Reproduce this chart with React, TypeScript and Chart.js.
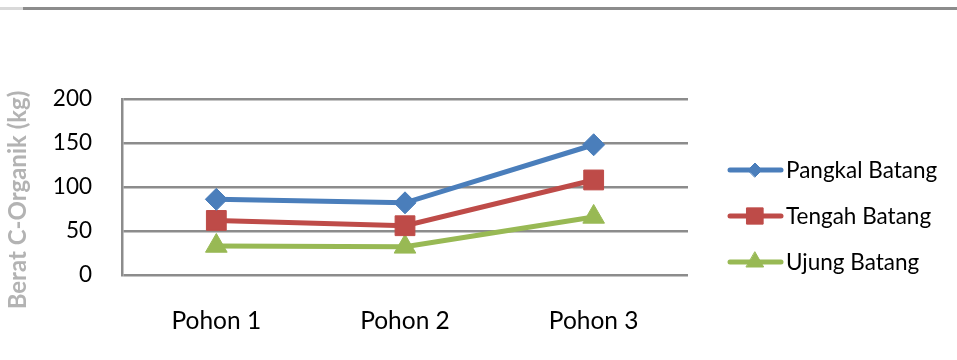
import React, { useEffect, useRef } from "react";
import { Chart, registerables } from "chart.js";
import { drawPoint } from "chart.js/helpers";

Chart.register(...registerables);

const categories = ["Pohon 1", "Pohon 2", "Pohon 3"];
const pangkalBatang = [86, 82, 148];
const tengahBatang = [62, 56, 108];
const ujungBatang = [33, 32, 66];
const yTicks = [0, 50, 100, 150, 200];
const yTitle = "Berat C-Organik (kg)";

const FONT = "Lato";

const legendPlugin = {
  id: "customLegend",
  afterDraw(chart: any) {
    const ctx = chart.ctx;
    ctx.save();
    const sizes = [7, 11.5, 10];
    chart.data.datasets.forEach((ds: any, i: number) => {
      const y = 170 + i * 46;
      ctx.strokeStyle = ds.borderColor;
      ctx.lineWidth = 5;
      ctx.lineCap = "round";
      ctx.beginPath();
      ctx.moveTo(730, y);
      ctx.lineTo(781, y);
      ctx.stroke();
      ctx.fillStyle = ds.backgroundColor;
      ctx.strokeStyle = ds.borderColor;
      ctx.lineWidth = 1;
      (drawPoint as any)(ctx, { pointStyle: ds.pointStyle, radius: sizes[i], rotation: 0, borderWidth: 1 }, 755, y);
      ctx.fillStyle = "#000000";
      ctx.font = `22.5px ${FONT}`;
      ctx.textAlign = "left";
      ctx.textBaseline = "middle";
      ctx.fillText(ds.label, 786, y + 1);
    });
    ctx.translate(18, 200);
    ctx.rotate(-Math.PI / 2);
    ctx.fillStyle = "#b3b3b3";
    ctx.font = `bold 24px ${FONT}`;
    ctx.textAlign = "center";
    ctx.textBaseline = "middle";
    ctx.fillText(yTitle, 0, 0);
    ctx.restore();
  },
};

export default function App() {
  const ref = useRef<HTMLCanvasElement>(null);
  useEffect(() => {
    if (!ref.current) return;
    const mk = (label: string, data: number[], color: string, style: string, r: number) => ({
      label,
      data,
      borderColor: color,
      backgroundColor: color,
      borderWidth: 5,
      pointStyle: style,
      pointRadius: r,
      pointBorderWidth: 1,
      tension: 0,
    });
    const chart = new Chart(ref.current, {
      type: "line",
      data: {
        labels: categories,
        datasets: [
          mk("Pangkal Batang", pangkalBatang, "#4a7ebb", "rectRot", 11),
          mk("Tengah Batang", tengahBatang, "#be4b48", "rect", 14),
          mk("Ujung Batang", ujungBatang, "#98b954", "triangle", 12.5),
        ],
      },
      options: {
        responsive: false,
        animation: false,
        layout: { padding: { left: 0, right: 269, top: 99, bottom: 0 } },
        plugins: { legend: { display: false }, tooltip: { enabled: false } },
        scales: {
          x: {
            offset: true,
            grid: { display: false, drawTicks: false },
            border: { display: false },
            ticks: { padding: 31, color: "#000000", font: { family: FONT, size: 24.5 } },
            afterFit: (s: any) => {
              s.height = 85;
            },
          },
          y: {
            min: 0,
            max: 200,
            afterBuildTicks: (s: any) => {
              s.ticks = yTicks.map((v) => ({ value: v }));
            },
            ticks: { padding: 30, color: "#000000", font: { family: FONT, size: 22.5 } },
            grid: { color: "#8c8c8c", lineWidth: 2.5, drawTicks: false },
            border: { display: true, color: "#8c8c8c", width: 2.5 },
            afterFit: (s: any) => {
              s.width = 122;
            },
          },
        },
      } as any,
      plugins: [legendPlugin],
    });
    return () => chart.destroy();
  }, []);
  return (
    <div style={{ position: "fixed", left: 0, top: 0, width: 957, height: 360, background: "#fff" }}>
      <canvas ref={ref} width={957} height={360} style={{ width: 957, height: 360 }} />
      <div style={{ position: "absolute", left: 0, top: 7, width: 23, height: 3, background: "#d9d9d9" }} />
      <div style={{ position: "absolute", left: 23, top: 7, width: 934, height: 3, background: "#8c8c8c" }} />
    </div>
  );
}
